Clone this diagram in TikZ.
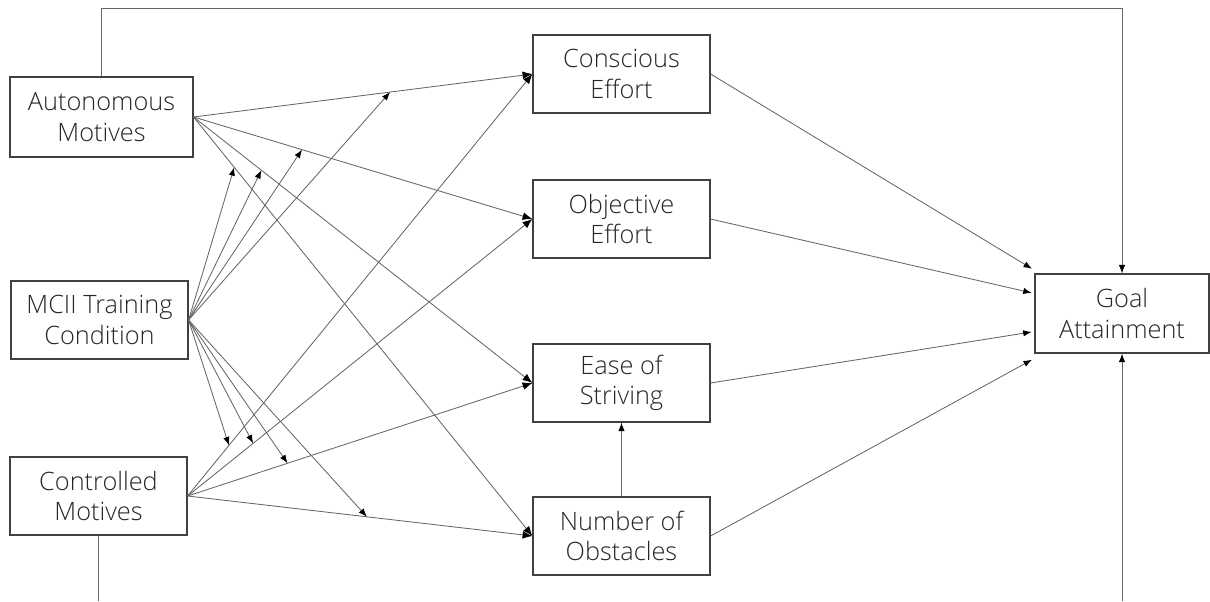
\documentclass[tikz,border=0pt]{standalone}
\usepackage{fontspec}
\setmainfont{Open Sans}[UprightFont=* Light]
\usetikzlibrary{arrows.meta}

\begin{document}
\begin{tikzpicture}[
    x=0.025cm, y=-0.025cm,
    box/.style={draw=black!75, line width=0.8pt, text=black!85, align=center,
        font=\fontsize{18}{21.5}\selectfont, inner sep=0pt,
        minimum width=4.425cm, minimum height=1.95cm},
    link/.style={draw=black!60, line width=0.6pt},
    arrow/.style={link, -{Latex[length=6pt, width=4.5pt, color=black]}},
    bigarrow/.style={link, -{Latex[length=7pt, width=5.5pt, color=black]}}
]
\useasboundingbox (0,0) rectangle (1210,601);

% Predictors
\node[box, minimum width=4.575cm, minimum height=2cm] (am) at (101.5,117) {Autonomous\\Motives};
\node[box] (mcii) at (99.5,320) {MCII Training\\Condition};
\node[box] (cm) at (98.5,496) {Controlled\\Motives};

% Mediators
\node[box] (ce) at (621.5,74) {Conscious\\Effort};
\node[box] (oe) at (621.5,219) {Objective\\Effort};
\node[box] (es) at (621.5,383) {Ease of\\Striving};
\node[box] (no) at (621.5,536) {Number of\\Obstacles};

% Outcome
\node[box, minimum width=4.35cm, minimum height=1.975cm] (ga) at (1122,313.5) {Goal\\Attainment};

% Paths from autonomous motives
\draw[bigarrow] (am.east) -- coordinate[pos=0.58] (amce) (ce.west);
\draw[bigarrow] (am.east) -- coordinate[pos=0.32] (amoe) (oe.west);
\draw[bigarrow] (am.east) -- coordinate[pos=0.2] (ames) (es.west);
\draw[bigarrow] (am.east) -- coordinate[pos=0.12] (amno) (no.west);

% Paths from controlled motives
\draw[bigarrow] (cm.east) -- coordinate[pos=0.12] (cmce) (ce.west);
\draw[bigarrow] (cm.east) -- coordinate[pos=0.19] (cmoe) (oe.west);
\draw[bigarrow] (cm.east) -- coordinate[pos=0.29] (cmes) (es.west);
\draw[bigarrow] (cm.east) -- coordinate[pos=0.52] (cmno) (no.west);

% Moderation by training condition
\draw[arrow] (mcii.east) -- (amce);
\draw[arrow] (mcii.east) -- (amoe);
\draw[arrow] (mcii.east) -- (ames);
\draw[arrow] (mcii.east) -- (amno);
\draw[arrow] (mcii.east) -- (cmce);
\draw[arrow] (mcii.east) -- (cmoe);
\draw[arrow] (mcii.east) -- (cmes);
\draw[arrow] (mcii.east) -- (cmno);

% Mediators to outcome
\draw[arrow] (no.north) -- (es.south);
\draw[arrow, shorten >=2pt] (ce.east) -- ([yshift=0.08cm]ga.north west);
\draw[arrow, shorten >=2pt] (oe.east) -- ([yshift=0.5cm]ga.west);
\draw[arrow, shorten >=2pt] (es.east) -- ([yshift=-0.45cm]ga.west);
\draw[arrow, shorten >=2pt] (no.east) -- ([yshift=-0.12cm]ga.south west);

% Direct paths
\draw[arrow] (am.north) -- (am.north |- 0,8) -| (ga.north);
\draw[link] (cm.south) -- (cm.south |- 0,601);
\draw[arrow] (ga.south |- 0,601) -- (ga.south);

\end{tikzpicture}
\end{document}
